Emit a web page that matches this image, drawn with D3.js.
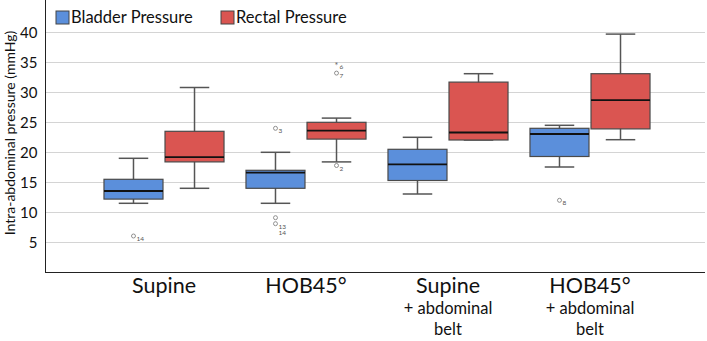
<!DOCTYPE html>
<html>
<head>
<meta charset="utf-8">
<script src="https://cdn.jsdelivr.net/npm/d3@7"></script>
<style>
  body { margin: 0; background: #fff; }
  text { font-family: Lato, "Open Sans", sans-serif; }
</style>
</head>
<body>
<div id="chart"></div>
<script>
// données
const categories = ["Supine", "HOB45°", "Supine|+ abdominal|belt", "HOB45°|+ abdominal|belt"];
const series = ["Bladder Pressure", "Rectal Pressure"];
const colors = ["#5b8fdb", "#da5551"];

// [whisker bas, Q1, médiane, Q3, whisker haut] par catégorie
const bladderStats = [
    [11.5, 12.2, 13.55, 15.5, 19.0],
    [11.5, 14.0, 16.6, 17.0, 20.0],
    [13.05, 15.3, 18.0, 20.5, 22.5],
    [17.55, 19.3, 23.05, 24.0, 24.5]
];
const rectalStats = [
    [14.0, 18.4, 19.2, 23.5, 30.8],
    [18.4, 22.2, 23.6, 25.0, 25.7],
    [22.05, 22.05, 23.3, 31.7, 33.1],
    [22.1, 23.9, 28.7, 33.1, 39.7]
];
// valeurs aberrantes : [catégorie, série, valeur, étiquette, symbole]
const outliers = [
    [0, 0, 6.05, "14", "o"],
    [1, 0, 24.0, "3", "o"],
    [1, 0, 9.1, "", "o"],
    [1, 0, 8.1, "13", "o"],
    [1, 1, 34.7, "6", "*"],
    [1, 1, 33.2, "7", "o"],
    [1, 1, 17.8, "2", "o"],
    [3, 0, 12.0, "8", "o"]
];
const yTicks = [5, 10, 15, 20, 25, 30, 35, 40];

const width = 707, height = 341;
const margin = { top: 0, right: 2, bottom: 69, left: 45 };

const svg = d3.select("#chart").append("svg")
    .attr("width", width)
    .attr("height", height);

const y = d3.scaleLinear()
    .domain([0, 45])
    .range([272.3, 2.3]);

const x = d3.scaleBand()
    .domain(categories)
    .range([93, 661])
    .padding(0);

const xs = d3.scaleBand()
    .domain(series)
    .range([0, x.bandwidth()])
    .paddingInner(0.033)
    .paddingOuter(0.18);

// grille horizontale
svg.append("g")
    .selectAll("line")
    .data(yTicks)
    .join("line")
    .attr("x1", margin.left)
    .attr("x2", 705)
    .attr("y1", d => Math.round(y(d)) + 0.5)
    .attr("y2", d => Math.round(y(d)) + 0.5)
    .attr("stroke", "#d4d4d4")
    .attr("stroke-width", 1);

// axe Y
const yAxis = svg.append("g")
    .attr("transform", `translate(${margin.left + 0.5}, 0)`)
    .call(d3.axisLeft(y).tickValues(yTicks).tickSize(0).tickPadding(8));
yAxis.select(".domain").attr("stroke", "#222").attr("d", "M0,0V272");
yAxis.selectAll("text")
    .attr("transform", "translate(0,0.5)")
    .style("font-size", "15px")
    .style("font-family", "Lato, sans-serif")
    .attr("fill", "#111");

svg.append("text")
    .attr("transform", "rotate(-90)")
    .attr("x", -133)
    .attr("y", 15)
    .attr("text-anchor", "middle")
    .style("font-size", "14px")
    .attr("fill", "#111")
    .text("Intra-abdominal pressure (mmHg)");

// axe X
svg.append("line")
    .attr("x1", margin.left).attr("x2", 705)
    .attr("y1", 272.5).attr("y2", 272.5)
    .attr("stroke", "#222");

const catLabels = svg.append("g")
    .selectAll("text")
    .data(categories)
    .join("text")
    .attr("x", d => x(d) + x.bandwidth() / 2)
    .attr("y", 293)
    .attr("text-anchor", "middle")
    .attr("fill", "#111");
catLabels.each(function(d) {
    const lines = d.split("|");
    const t = d3.select(this);
    lines.forEach((l, i) => {
        t.append("tspan")
            .attr("x", x(d) + x.bandwidth() / 2)
            .attr("dy", i === 0 ? 0 : (i === 1 ? 21 : 21))
            .style("font-size", i === 0 ? "21.5px" : "16.5px")
            .text(l);
    });
});

// boîtes à moustaches
const allStats = [bladderStats, rectalStats];
allStats.forEach((stats, si) => {
    const g = svg.append("g");
    stats.forEach((s, ci) => {
        const x0 = x(categories[ci]) + xs(series[si]);
        const bw = xs.bandwidth();
        const cx = x0 + bw / 2;
        // moustaches
        g.append("line")
            .attr("x1", cx).attr("x2", cx)
            .attr("y1", y(s[0])).attr("y2", y(s[4]))
            .attr("stroke", "#555").attr("stroke-width", 1.5);
        [s[0], s[4]].forEach(v => {
            g.append("line")
                .attr("x1", cx - bw / 4).attr("x2", cx + bw / 4)
                .attr("y1", y(v)).attr("y2", y(v))
                .attr("stroke", "#555").attr("stroke-width", 1.5);
        });
        // boîte
        g.append("rect")
            .attr("x", x0)
            .attr("y", y(s[3]))
            .attr("width", bw)
            .attr("height", y(s[1]) - y(s[3]))
            .attr("fill", colors[si])
            .attr("stroke", "#4a4a4a")
            .attr("stroke-width", 1.2);
        // médiane
        g.append("line")
            .attr("x1", x0).attr("x2", x0 + bw)
            .attr("y1", y(s[2])).attr("y2", y(s[2]))
            .attr("stroke", "#111").attr("stroke-width", 1.8);
    });
});

// valeurs aberrantes
const og = svg.append("g");
outliers.forEach(o => {
    const cx = x(categories[o[0]]) + xs(series[o[1]]) + xs.bandwidth() / 2;
    const cy = y(o[2]);
    if (o[4] === "*") {
        og.append("text")
            .attr("x", cx).attr("y", cy + 5)
            .attr("text-anchor", "middle")
            .style("font-size", "9px")
            .attr("fill", "#666")
            .text("*");
    } else {
        og.append("circle")
            .attr("cx", cx).attr("cy", cy)
            .attr("r", 2)
            .attr("fill", "none")
            .attr("stroke", "#777")
            .attr("stroke-width", 0.8);
    }
    if (o[3]) {
        og.append("text")
            .attr("x", cx + 3).attr("y", cy + 5)
            .style("font-size", "6.5px")
            .attr("fill", "#555")
            .text(o[3]);
    }
});
// étiquette "14" superposée sous le 13
og.append("text")
    .attr("x", x(categories[1]) + xs(series[0]) + xs.bandwidth() / 2 + 3)
    .attr("y", y(8.1) + 11)
    .style("font-size", "6.5px")
    .attr("fill", "#555")
    .text("14");

// légende
const legX = [56, 221];
const leg = svg.append("g")
    .selectAll("g")
    .data(series)
    .join("g")
    .attr("transform", (d, i) => `translate(${legX[i]}, 11)`);
leg.append("rect")
    .attr("width", 13).attr("height", 13)
    .attr("fill", (d, i) => colors[i])
    .attr("stroke", "#444").attr("stroke-width", 1);
leg.append("text")
    .attr("x", 15)
    .attr("y", 12)
    .style("font-size", "16.5px")
    .attr("fill", "#111")
    .text(d => d);
</script>
</body>
</html>
